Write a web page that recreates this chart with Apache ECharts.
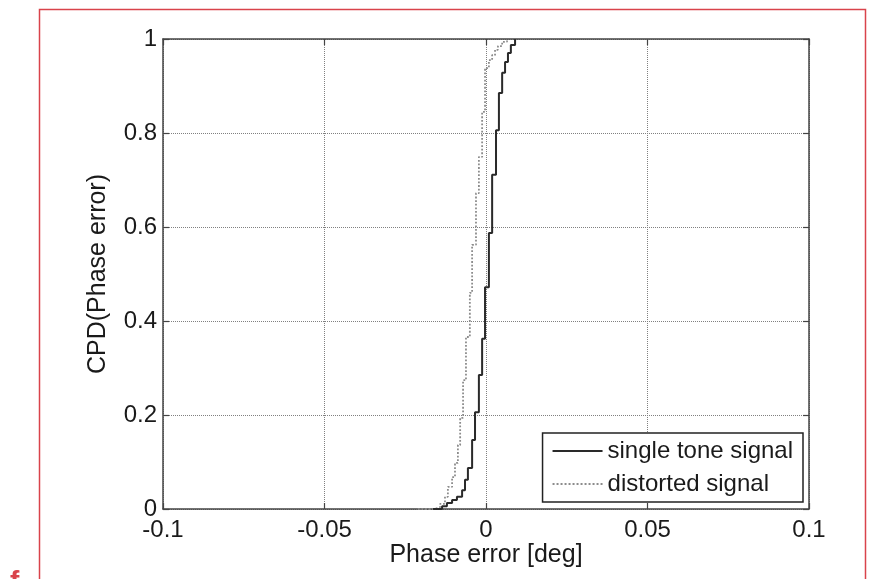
<!DOCTYPE html>
<html>
<head>
<meta charset="utf-8">
<script src="https://cdn.jsdelivr.net/npm/echarts@6/dist/echarts.min.js"></script>
<style>
  html, body { margin: 0; padding: 0; background: #fff; }
  #chart { width: 872px; height: 579px; }
</style>
</head>
<body>
<div id="chart"></div>
<script>
// Empirical cumulative distribution of the phase error, [phase error (deg), CPD]
const singleTone = [
  [-0.0164, 0], [-0.0136, 0.006], [-0.0121, 0.013], [-0.0105, 0.019], [-0.0090, 0.026],
  [-0.0074, 0.040], [-0.0065, 0.062], [-0.0056, 0.087], [-0.0043, 0.147], [-0.0034, 0.206],
  [-0.0022, 0.285], [-0.0012, 0.362], [-0.0003, 0.472], [0.0009, 0.587], [0.0019, 0.711],
  [0.0031, 0.806], [0.0040, 0.885], [0.0050, 0.928], [0.0059, 0.951], [0.0068, 0.970],
  [0.0077, 0.987], [0.0090, 1.0]
];
const distorted = [
  [-0.0211, 0], [-0.0158, 0.004], [-0.0142, 0.011], [-0.0127, 0.026], [-0.0118, 0.047],
  [-0.0105, 0.068], [-0.0096, 0.098], [-0.0087, 0.136], [-0.0080, 0.194], [-0.0071, 0.274],
  [-0.0062, 0.366], [-0.0050, 0.460], [-0.0043, 0.562], [-0.0031, 0.672], [-0.0022, 0.749],
  [-0.0012, 0.845], [-0.0003, 0.938], [0.0009, 0.955], [0.0019, 0.966], [0.0028, 0.977],
  [0.0037, 0.985], [0.0050, 0.994], [0.0065, 1.0]
];
const seriesNames = ['single tone signal', 'distorted signal'];
const xTickLabels = ['-0.1', '-0.05', '0', '0.05', '0.1'];
const yTickLabels = ['0', '0.2', '0.4', '0.6', '0.8', '1'];
const xTitle = 'Phase error [deg]';
const yTitle = 'CPD(Phase error)';

const FONT = 'Liberation Sans, Arial, Helvetica, sans-serif';
const TEXT = '#1a1a1a';
const FRAME = '#444';

function labelFor(list, v) {
  const hit = list.find(s => Math.abs(parseFloat(s) - v) < 1e-9);
  return hit === undefined ? '' : hit;
}

const chart = echarts.init(document.getElementById('chart'), null, { renderer: 'canvas' });

const frameAxis = {
  axisLine: { show: true, onZero: false, lineStyle: { color: FRAME, width: 1.5 } },
  axisTick: { show: true, inside: true, length: 6, lineStyle: { color: FRAME, width: 1.2 } }
};

chart.setOption({
  backgroundColor: '#fff',
  animation: false,
  grid: { left: 163, right: 63, top: 39, bottom: 70, containLabel: false },
  xAxis: [
    Object.assign({
      type: 'value', min: -0.1, max: 0.1, interval: 0.05, position: 'bottom',
      name: xTitle, nameLocation: 'middle', nameGap: 34, nameMoveOverlap: false,
      nameTextStyle: { fontFamily: FONT, fontSize: 25, color: TEXT },
      axisLabel: {
        margin: 9, fontFamily: FONT, fontSize: 24, color: TEXT,
        formatter: v => labelFor(xTickLabels, v)
      },
      splitLine: { show: true, lineStyle: { color: '#808080', type: 'dotted', width: 1 } }
    }, frameAxis),
    Object.assign({
      type: 'value', min: -0.1, max: 0.1, interval: 0.05, position: 'top',
      axisLabel: { show: false }, splitLine: { show: false }
    }, frameAxis)
  ],
  yAxis: [
    Object.assign({
      type: 'value', min: 0, max: 1, interval: 0.2, position: 'left',
      name: yTitle, nameLocation: 'middle', nameGap: 52, nameMoveOverlap: false,
      nameTextStyle: { fontFamily: FONT, fontSize: 25, color: TEXT },
      axisLabel: {
        margin: 6, fontFamily: FONT, fontSize: 24, color: TEXT,
        formatter: v => labelFor(yTickLabels, v)
      },
      splitLine: { show: true, lineStyle: { color: '#808080', type: 'dotted', width: 1 } }
    }, frameAxis),
    Object.assign({
      type: 'value', min: 0, max: 1, interval: 0.2, position: 'right',
      axisLabel: { show: false }, splitLine: { show: false }
    }, frameAxis)
  ],
  legend: {
    orient: 'vertical',
    right: 69, top: 433,
    padding: [6, 10, 6, 9],
    itemWidth: 50, itemHeight: 14, itemGap: 9,
    backgroundColor: '#fff',
    borderColor: '#222', borderWidth: 1.5,
    itemStyle: { opacity: 0 },
    textStyle: { fontFamily: FONT, fontSize: 24, color: TEXT, lineHeight: 24 },
    data: seriesNames
  },
  series: [
    {
      name: seriesNames[0], type: 'line', step: 'end', data: singleTone,
      symbol: 'none', color: '#2a2a2a',
      lineStyle: { color: '#2a2a2a', width: 2 }, z: 3
    },
    {
      name: seriesNames[1], type: 'line', step: 'end', data: distorted,
      symbol: 'none', color: '#8c8c8c',
      lineStyle: { color: '#8c8c8c', width: 1.8, type: 'dotted' }, z: 2
    }
  ],
  graphic: [
    {
      type: 'rect', silent: true,
      shape: { x: 39.5, y: 9.5, width: 826, height: 620 },
      style: { fill: 'none', stroke: '#d9434b', lineWidth: 1.5 }
    },
    {
      type: 'text', silent: true, left: 10, top: 568,
      style: { text: 'f', fill: '#d9434b', font: 'bold 28px ' + FONT }
    }
  ]
});
</script>
</body>
</html>
